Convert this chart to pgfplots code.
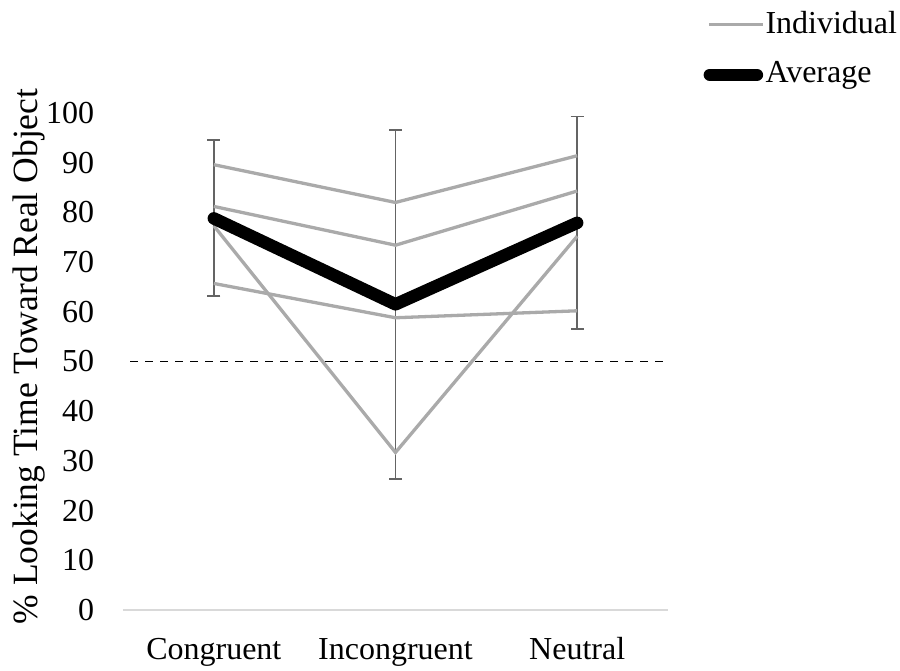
\documentclass[border=0pt]{standalone}
\usepackage{pgfplots}
\pgfplotsset{compat=1.18}
\usepackage{fontspec}
\setmainfont{Liberation Serif}
\definecolor{indiv}{RGB}{170,170,170}
\definecolor{errc}{RGB}{100,100,100}
\definecolor{axc}{RGB}{217,217,217}
\pgfplotsset{
 indivleg/.style={legend image code/.code={\draw[##1] (0pt,0pt) -- (54pt,0pt);}},
 avgleg/.style={legend image code/.code={\draw[##1] (1pt,0pt) -- (48pt,0pt);}},
}
\begin{document}
\fontsize{32}{38}\selectfont
\begin{tikzpicture}
\useasboundingbox (0,0) rectangle (900pt,670pt);
\begin{axis}[
 at={(123pt,60pt)}, anchor=south west,
 width=545pt, height=497pt, scale only axis,
 xmin=0, xmax=3, ymin=0, ymax=100,
 xtick={0.5,1.5,2.5}, xticklabels={Congruent,Incongruent,Neutral},
 ytick={0,10,...,100},
 axis x line*=bottom, axis y line*=left,
 x axis line style={draw=axc, line width=1.5pt, -},
 y axis line style={draw=none},
 major tick length=0pt,
 tick label style={font=\fontsize{32}{38}\selectfont},
 /pgf/number format/assume math mode=true,
 yticklabel style={xshift=-18pt},
 xticklabel style={anchor=base, yshift=-49pt},
 ylabel={\% Looking Time Toward Real Object},
 ylabel style={font=\fontsize{35.5}{41}\selectfont, at={(axis description cs:-0.1725,0.510)}, anchor=center},
 clip=false,
 legend cell align=left,
 legend style={at={(rel axis cs:1.065,1.208)}, anchor=north west, draw=none, fill=none, inner sep=0pt, font=\fontsize{32}{38}\selectfont, row sep=22pt, nodes={inner sep=1pt}},
]
\addplot[draw=none, forget plot, error bars/.cd, y dir=both, y explicit,
  error bar style={draw=errc, line width=1.8pt, solid},
  error mark options={rotate=90, mark size=6.5pt, draw=errc, line width=1.8pt}]
  coordinates {(0.5,78.8) +- (0,15.7) (1.5,61.5) +- (0,35.1) (2.5,77.9) +- (0,21.4)};
\addplot[black, line width=1.7pt, dash pattern=on 8pt off 7pt, forget plot] coordinates {(0.04,50) (3,50)};
\addplot[indiv, line width=3.3pt, forget plot] coordinates {(0.5,89.6) (1.5,82.0) (2.5,91.4)};
\addplot[indiv, line width=3.3pt, forget plot] coordinates {(0.5,81.2) (1.5,73.4) (2.5,84.3)};
\addplot[indiv, line width=3.3pt, forget plot] coordinates {(0.5,65.7) (1.5,58.8) (2.5,60.2)};
\addplot[indiv, line width=3.3pt, indivleg] coordinates {(0.5,77.3) (1.5,31.7) (2.5,75.2)};
\addlegendentry{Individual}
\addplot[black, line width=12.5pt, line cap=round, line join=round, avgleg] coordinates {(0.5,78.8) (1.5,61.5) (2.5,77.9)};
\addlegendentry{Average}
\end{axis}
\end{tikzpicture}
\end{document}
